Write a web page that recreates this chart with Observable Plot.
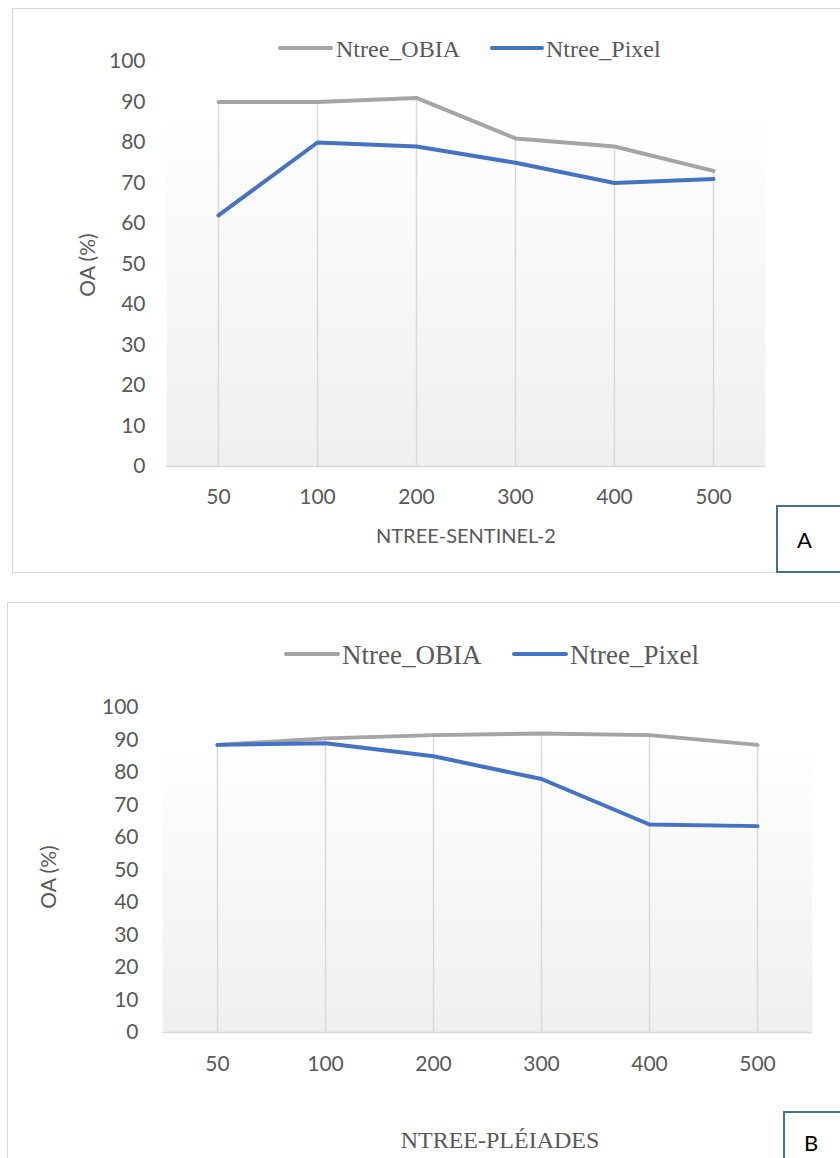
<!DOCTYPE html>
<html>
<head>
<meta charset="utf-8">
<script src="https://cdn.jsdelivr.net/npm/d3@7"></script>
<script src="https://cdn.jsdelivr.net/npm/@observablehq/plot@0.6"></script>
<style>
  html, body { margin: 0; padding: 0; background: #fff; }
  #page { position: relative; width: 840px; height: 1158px; overflow: hidden; background: #fff; }
  .frame { position: absolute; border: 1.5px solid #d9d9d9; box-sizing: border-box; background: #fff; }
  .tag { position: absolute; border: 2px solid #41719c; box-sizing: border-box; background: #fff;
         font-family: Lato, "Open Sans", sans-serif; font-size: 22px; color: #000; }
  .legline { position: absolute; height: 4px; border-radius: 2px; }
  .legtext { position: absolute; font-family: "Liberation Serif", "Times New Roman", serif; color: #595959; white-space: nowrap; line-height: 1; }
  .ytitle { position: absolute; font-family: Lato, "Open Sans", sans-serif; font-size: 21px; color: #595959;
            white-space: nowrap; transform: translate(-50%, -50%) rotate(-90deg); line-height: 1; }
  .xtitle { position: absolute; color: #595959; white-space: nowrap; transform: translate(-50%, -50%); line-height: 1; }
  svg { position: absolute; left: 0; }
</style>
</head>
<body>
<div id="page"></div>
<script>
// ---- data ----
const categories = ["50", "100", "200", "300", "400", "500"];
const yTicks = [0, 10, 20, 30, 40, 50, 60, 70, 80, 90, 100];
const seriesNames = ["Ntree_OBIA", "Ntree_Pixel"];
const obiaSentinel = [90, 90, 91, 81, 79, 73];
const pixelSentinel = [62, 80, 79, 75, 70, 71];
const obiaPleiades = [88.5, 90.5, 91.5, 92, 91.5, 88.5];
const pixelPleiades = [88.5, 89, 85, 78, 64, 63.5];
const titleA = "NTREE-SENTINEL-2";
const titleB = "NTREE-PLÉIADES";
const yTitle = "OA (%)";

const GRAY = "#a5a5a5", BLUE = "#4472c4";
const page = document.getElementById("page");

function el(cls, css, text) {
  const d = document.createElement("div");
  d.className = cls;
  Object.assign(d.style, css);
  if (text != null) d.textContent = text;
  page.appendChild(d);
  return d;
}

function chart(obia, pixel, o) {
  const data = categories.map((c, i) => ({cat: c, obia: obia[i], pixel: pixel[i]}));
  const svg = Plot.plot({
    width: 840,
    height: o.height,
    marginLeft: o.ml, marginRight: o.mr, marginTop: o.mt, marginBottom: o.mb,
    style: {background: "none", fontFamily: "Lato, 'Open Sans', sans-serif", fontSize: "21px", color: "#595959", overflow: "visible"},
    x: {type: "point", domain: categories, padding: 0.5, label: null},
    y: {domain: [0, 100], label: null},
    marks: [
      Plot.frame({fill: `url(#${o.id})`}),
      Plot.ruleX(data, {x: "cat", y1: 0, y2: "obia", stroke: "#d9d9d9", strokeWidth: 1.5}),
      Plot.ruleY([0], {stroke: "#d9d9d9", strokeWidth: 1.5}),
      Plot.axisY({ticks: yTicks, tickSize: 0, tickPadding: o.ytp, label: null}),
      Plot.axisX({tickSize: 0, tickPadding: o.xtp, label: null}),
      Plot.lineY(data, {x: "cat", y: "obia", stroke: GRAY, strokeWidth: 4, strokeLinejoin: "round", strokeLinecap: "round"}),
      Plot.lineY(data, {x: "cat", y: "pixel", stroke: BLUE, strokeWidth: 4, strokeLinejoin: "round", strokeLinecap: "round"})
    ]
  });
  const ns = "http://www.w3.org/2000/svg";
  const defs = document.createElementNS(ns, "defs");
  const g = document.createElementNS(ns, "linearGradient");
  g.setAttribute("id", o.id);
  g.setAttribute("x1", "0"); g.setAttribute("y1", "0"); g.setAttribute("x2", "0"); g.setAttribute("y2", "1");
  [["0%", "#ffffff"], ["12%", "#ffffff"], ["100%", "#efefef"]].forEach(([off, col]) => {
    const s = document.createElementNS(ns, "stop");
    s.setAttribute("offset", off); s.setAttribute("stop-color", col);
    g.appendChild(s);
  });
  defs.appendChild(g);
  svg.insertBefore(defs, svg.firstChild);
  svg.style.top = o.top + "px";
  page.appendChild(svg);
}

// frames (behind)
el("frame", {left: "12px", top: "8px", width: "860px", height: "565px"});
el("frame", {left: "7px", top: "602px", width: "860px", height: "600px"});

// Chart A
chart(obiaSentinel, pixelSentinel, {id: "gradA", top: 0, height: 572, ml: 166, mr: 75, mt: 61, mb: 106, ytp: 21, xtp: 23});
// Chart B
chart(obiaPleiades, pixelPleiades, {id: "gradB", top: 602, height: 556, ml: 162, mr: 28, mt: 105, mb: 126, ytp: 24, xtp: 24});

// legends
el("legline", {left: "278px", top: "46px", width: "55px", background: GRAY});
el("legtext", {left: "336px", top: "37px", fontSize: "24px"}, seriesNames[0]);
el("legline", {left: "490px", top: "46px", width: "54px", background: BLUE});
el("legtext", {left: "546px", top: "37px", fontSize: "24px"}, seriesNames[1]);

el("legline", {left: "284px", top: "652px", width: "56px", background: GRAY});
el("legtext", {left: "342px", top: "642px", fontSize: "27px"}, seriesNames[0]);
el("legline", {left: "512px", top: "652px", width: "56px", background: BLUE});
el("legtext", {left: "570px", top: "642px", fontSize: "27px"}, seriesNames[1]);

// axis titles
el("ytitle", {left: "86px", top: "265px"}, yTitle);
el("ytitle", {left: "47px", top: "877px"}, yTitle);
el("xtitle", {left: "466px", top: "535px", fontFamily: "Lato, 'Open Sans', sans-serif", fontSize: "20px"}, titleA);
el("xtitle", {left: "500px", top: "1140px", fontFamily: "'Liberation Serif', serif", fontSize: "24px"}, titleB);

// panel tags
const ta = el("tag", {left: "776px", top: "505px", width: "80px", height: "68px"});
ta.innerHTML = '<span style="position:absolute;left:19px;top:19px">A</span>';
const tb = el("tag", {left: "783px", top: "1111px", width: "80px", height: "80px"});
tb.innerHTML = '<span style="position:absolute;left:19px;top:16px">B</span>';
</script>
</body>
</html>
